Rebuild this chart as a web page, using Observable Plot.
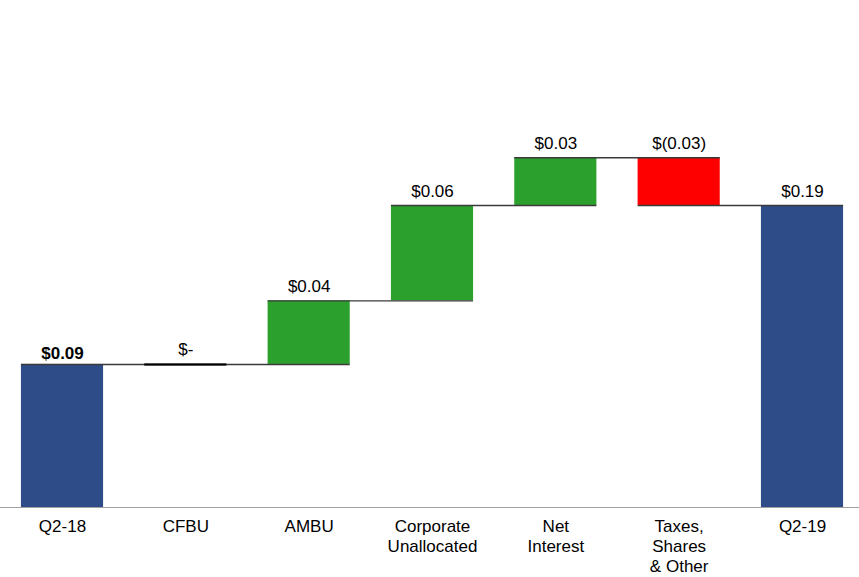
<!DOCTYPE html>
<html>
<head>
<meta charset="utf-8">
<script src="https://cdn.jsdelivr.net/npm/d3@7"></script>
<script src="https://cdn.jsdelivr.net/npm/@observablehq/plot@0.6"></script>
<style>
  html, body { margin: 0; padding: 0; background: #fff; }
  #chart svg { display: block; }
</style>
</head>
<body>
<div id="chart"></div>
<script>
const categories = ["Q2-18", "CFBU", "AMBU", "Corporate\nUnallocated", "Net\nInterest", "Taxes,\nShares\n& Other", "Q2-19"];
const values = [0.09, 0.00, 0.04, 0.06, 0.03, -0.03, 0.19];
const valueLabels = ["$0.09", "$-", "$0.04", "$0.06", "$0.03", "$(0.03)", "$0.19"];
const kinds = ["total", "delta", "delta", "delta", "delta", "delta", "total"];

const colors = {total: "#2E4C87", up: "#2CA02C", down: "#FF0000"};
const hw = 0.333; // half bar width in band units

let run = 0;
const rows = categories.map((c, i) => {
  let y1, y2;
  if (kinds[i] === "total") { y1 = 0; y2 = values[i]; run = values[i]; }
  else { y1 = run; y2 = run + values[i]; run = y2; }
  const fill = kinds[i] === "total" ? colors.total : (values[i] >= 0 ? colors.up : colors.down);
  return {i, cat: c, y1, y2, top: Math.max(y1, y2), end: y2, fill, label: valueLabels[i], bold: i === 0};
});
const connectors = rows.slice(0, -1).map(r => ({x1: r.i - hw, x2: r.i + 1 + hw, y: r.end}));
const bars = rows.filter(r => r.y1 !== r.y2);
const zeros = rows.filter(r => r.y1 === r.y2);

const chart = Plot.plot({
  width: 859,
  height: 577,
  marginLeft: 0,
  marginRight: 0,
  marginTop: 0,
  marginBottom: 70,
  style: {fontFamily: "'Liberation Sans', Arial, sans-serif", fontSize: "17px", color: "#000", background: "#fff"},
  x: {type: "linear", domain: [-0.5, 6.5], range: [0.33, 863.67], axis: null},
  y: {domain: [0, 0.19], range: [507, 205], axis: null},
  marks: [
    Plot.rectY(bars, {x1: d => d.i - hw, x2: d => d.i + hw, y1: "y1", y2: "y2", fill: "fill"}),
    Plot.ruleY([0], {stroke: "#A0A0A0", strokeWidth: 1.2}),
    Plot.ruleY(connectors, {x1: "x1", x2: "x2", y: "y", stroke: "#3A3A3A", strokeWidth: 1.4}),
    Plot.ruleY(zeros, {x1: d => d.i - hw, x2: d => d.i + hw, y: "y1", stroke: "#000", strokeWidth: 2}),
    Plot.text(rows.filter(d => !d.bold), {x: "i", y: "top", text: "label", dy: -9, lineAnchor: "bottom", fontSize: 17, fill: "#000"}),
    Plot.text(rows.filter(d => d.bold), {x: "i", y: "top", text: "label", dy: -5, lineAnchor: "bottom", fontSize: 17, fontWeight: "bold", fill: "#000"}),
    Plot.axisX(d3.range(categories.length), {tickFormat: i => categories[i], tickSize: 0, tickPadding: 10,
      fontSize: 17, lineHeight: 1.18, fill: "#000", label: null})
  ]
});
document.getElementById("chart").appendChild(chart);
</script>
</body>
</html>
